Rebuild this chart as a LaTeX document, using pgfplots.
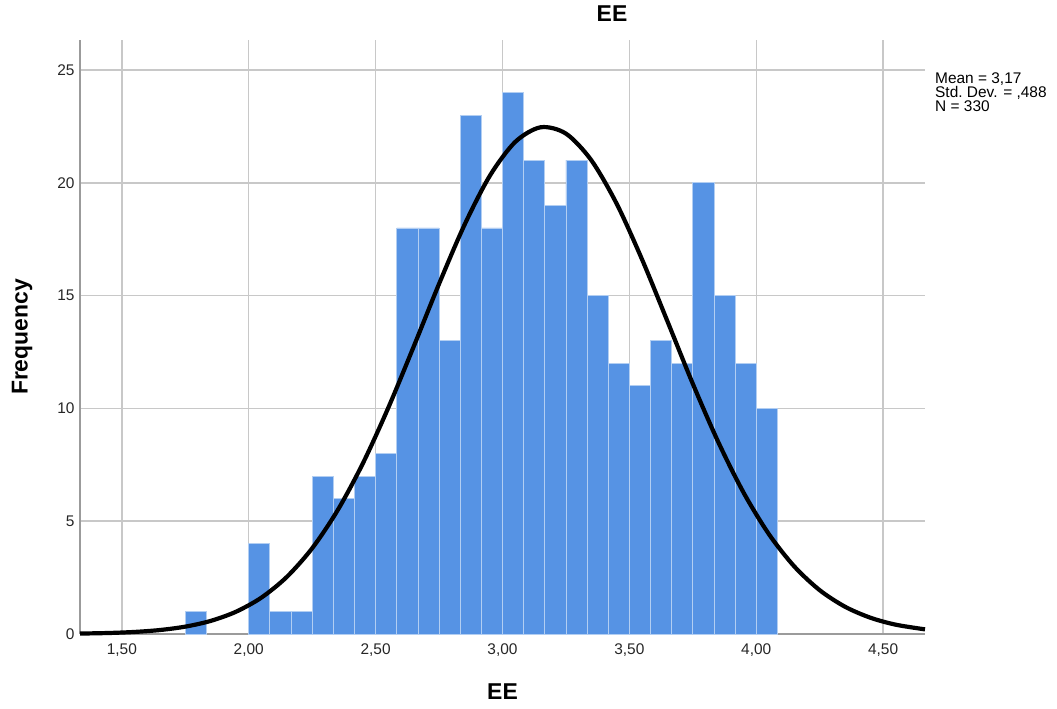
\documentclass[border=0pt]{standalone}
\usepackage{pgfplots}
\pgfplotsset{compat=1.18}
\usepackage{fontspec}
\setmainfont{Liberation Sans}

\definecolor{barblue}{RGB}{86,147,228}
\definecolor{baredge}{RGB}{178,206,242}
\definecolor{gridgray}{RGB}{200,200,200}
\definecolor{axisgray}{RGB}{155,155,155}

\begin{document}
\begin{tikzpicture}
  \useasboundingbox (0,0) rectangle (1057bp,709bp);
  \begin{axis}[
      at={(80bp,75bp)}, anchor=south west,
      scale only axis,
      width=845bp, height=594bp,
      xmin=1.335, xmax=4.665,
      ymin=0, ymax=26.33,
      clip=false,
      axis x line*=bottom, axis y line*=left,
      axis line style={draw=axisgray, line width=1.8bp, -},
      xtick={1.5,2,2.5,3,3.5,4,4.5},
      ytick={0,5,10,15,20,25},
      major tick length=0pt,
      grid=major,
      major grid style={draw=gridgray, line width=1.5bp},
      x tick label style={yshift=-6bp},
      xticklabel style={
        /pgf/number format/use comma, /pgf/number format/fixed,
        /pgf/number format/fixed zerofill, /pgf/number format/precision=2,
      },
      y tick label style={xshift=-2bp},
      /pgf/number format/assume math mode=true,
      ticklabel style={font=\fontsize{15.5}{18}\selectfont, text=black!85},
      title={\bfseries EE},
      title style={font=\fontsize{23}{26}\selectfont, at={(axis description cs:0.6296,1.0337)}, anchor=center},
      xlabel={\bfseries EE},
      xlabel style={font=\fontsize{23}{26}\selectfont, at={(axis description cs:0.5,-0.0976)}, anchor=center},
      ylabel={\bfseries Frequency},
      ylabel style={font=\fontsize{23}{26}\selectfont, at={(axis description cs:-0.0686,0.5)}, anchor=center},
    ]
    % histogram, bin width 1/12
    \addplot[ybar interval, fill=barblue, draw=baredge, line width=0.8bp]
      coordinates {(1.7500,1) (1.8333,1)};
    \addplot[ybar interval, fill=barblue, draw=baredge, line width=0.8bp]
      coordinates {
        (2.0000,4) (2.0833,1) (2.1667,1) (2.2500,7) (2.3333,6)
        (2.4167,7) (2.5000,8) (2.5833,18) (2.6667,18) (2.7500,13)
        (2.8333,23) (2.9167,18) (3.0000,24) (3.0833,21) (3.1667,19)
        (3.2500,21) (3.3333,15) (3.4167,12) (3.5000,11) (3.5833,13)
        (3.6667,12) (3.7500,20) (3.8333,15) (3.9167,12) (4.0000,10)
        (4.0833,10)
      };
    % normal curve, mean 3.17, sd 0.488, N = 330
    \addplot[black, line width=4.2bp, smooth, no marks]
      coordinates {
        (1.335,0.019) (1.45,0.045) (1.55,0.091) (1.65,0.176) (1.75,0.326)
        (1.85,0.580) (1.95,0.988) (2.05,1.614) (2.15,2.530) (2.25,3.802)
        (2.35,5.479) (2.45,7.570) (2.55,10.03) (2.65,12.74) (2.75,15.52)
        (2.85,18.13) (2.95,20.31) (3.05,21.81) (3.15,22.46) (3.25,22.18)
        (3.35,21.00) (3.45,19.07) (3.55,16.60) (3.65,13.86) (3.75,11.09)
        (3.85,8.515) (3.95,6.267) (4.05,4.422) (4.15,2.993) (4.25,1.942)
        (4.35,1.208) (4.45,0.721) (4.55,0.412) (4.665,0.206)
      };
    \node[anchor=north west, align=left, inner sep=0pt,
          font=\fontsize{15.5}{14.5}\selectfont]
      at (axis description cs:1.0118,0.946)
      {Mean = 3,17\\Std.\ Dev. = ,488\\N = 330};
  \end{axis}
\end{tikzpicture}
\end{document}
